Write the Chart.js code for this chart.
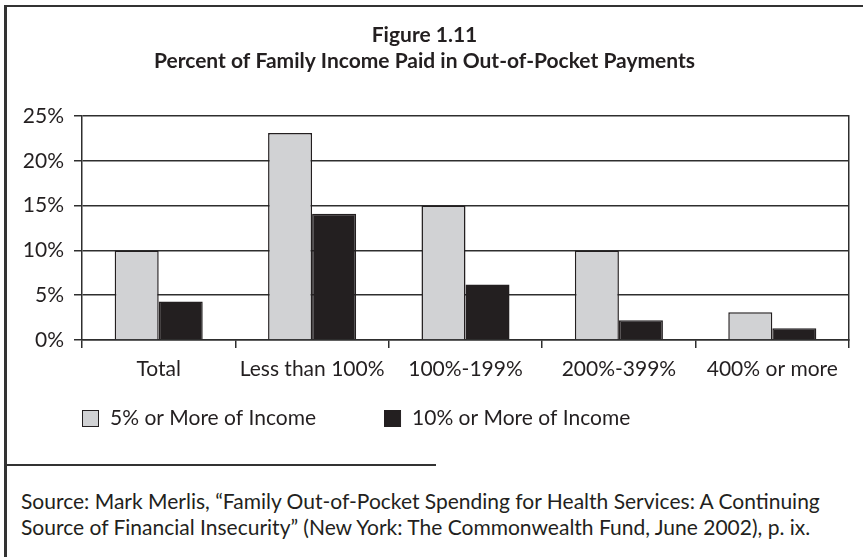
<!DOCTYPE html>
<html>
<head>
<meta charset="utf-8">
<script src="https://cdn.jsdelivr.net/npm/chart.js@4.4.1/dist/chart.umd.min.js"></script>
<style>
  body { margin: 0; background: #fff; font-family: Lato, sans-serif; color: #231f20; }
  #frame { position: absolute; left: 4px; top: 5px; width: 870px; height: 560px;
           border-left: 3px solid #333; border-top: 2px solid #333; }
  #wrap { position: absolute; left: 0; top: 0; }
  #rule { position: absolute; left: 7px; top: 464px; width: 429px; height: 2px; background: #333; }
  #source { position: absolute; left: 21px; top: 488px; font-size: 21px; line-height: 26px; white-space: nowrap; }
</style>
</head>
<body>
<div id="frame"></div>
<div id="wrap"><canvas id="chart" width="863" height="440"></canvas></div>
<div id="rule"></div>
<div id="source">Source: Mark Merlis, “Family Out-of-Pocket Spending for Health Services: A Continuing<br>Source of Financial Insecurity” (New York: The Commonwealth Fund, June 2002), p. ix.</div>
<script>
// ข้อมูลกราฟ
const categories = ['Total', 'Less than 100%', '100%-199%', '200%-399%', '400% or more'];
const fivePercent = [10, 23.1, 15, 10, 3.1];
const tenPercent = [4.3, 14.1, 6.2, 2.2, 1.3];
const seriesNames = ['5% or More of Income', '10% or More of Income'];
const titleLines = ['Figure 1.11', 'Percent of Family Income Paid in Out-of-Pocket Payments'];

const ink = '#231f20';
const lineColor = '#2e2e2e';

Chart.defaults.font.family = 'Lato';
Chart.defaults.color = ink;

// legend วาดเอง
const legendBoxes = {
  id: 'legendBoxes',
  afterDraw(chart) {
    const c = chart.ctx;
    c.save();
    c.font = '21px Lato';
    c.textBaseline = 'middle';
    let x = chart.chartArea.left;
    const y = 418;
    chart.data.datasets.forEach(function (ds) {
      c.fillStyle = ds.backgroundColor;
      c.fillRect(x, y - 8, 16, 16);
      c.strokeStyle = ink;
      c.lineWidth = 1;
      c.strokeRect(x + 0.5, y - 7.5, 16, 16);
      c.fillStyle = ink;
      c.fillText(ds.label, x + 28, y);
      x += 28 + c.measureText(ds.label).width + 68;
    });
    c.restore();
  }
};

new Chart(document.getElementById('chart'), {
  type: 'bar',
  data: {
    labels: categories,
    datasets: [{
      label: seriesNames[0],
      data: fivePercent,
      backgroundColor: '#d1d2d4',
      borderColor: ink,
      borderWidth: 1.5,
      borderSkipped: 'bottom'
    }, {
      label: seriesNames[1],
      data: tenPercent,
      backgroundColor: ink,
      borderColor: ink,
      borderWidth: 1.5,
      borderSkipped: 'bottom'
    }]
  },
  options: {
    responsive: false,
    animation: false,
    categoryPercentage: 0.574,
    barPercentage: 1,
    layout: { padding: { left: 0, right: 14, top: 0, bottom: 50 } },
    plugins: {
      legend: { display: false },
      tooltip: { enabled: false },
      title: {
        display: true,
        text: titleLines,
        color: ink,
        font: { family: 'Lato', size: 21, weight: 'bold', lineHeight: 1.2 },
        padding: { top: 23, bottom: 42.6 }
      }
    },
    scales: {
      x: {
        grid: { display: true, drawOnChartArea: false, drawTicks: true, tickLength: 8, color: lineColor, lineWidth: 1.5 },
        border: { display: true, color: lineColor, width: 1.5 },
        ticks: { font: { size: 21 }, padding: 9, color: ink, maxRotation: 0, autoSkip: false },
        afterFit: function (s) { s.height = 50; }
      },
      y: {
        min: 0,
        max: 25,
        grid: { color: lineColor, lineWidth: 1.5, tickLength: 8 },
        border: { display: true, color: lineColor, width: 1.5 },
        ticks: { stepSize: 5, font: { size: 21 }, padding: 10, color: ink,
                 callback: function (v) { return v + '%'; } },
        afterFit: function (s) { s.width = 82; }
      },
      y2: {
        position: 'right',
        min: 0,
        max: 25,
        grid: { drawOnChartArea: false, drawTicks: false },
        border: { display: true, color: lineColor, width: 1.5 },
        ticks: { display: false },
        afterFit: function (s) { s.width = 0; }
      }
    }
  },
  plugins: [legendBoxes]
});
</script>
</body>
</html>
